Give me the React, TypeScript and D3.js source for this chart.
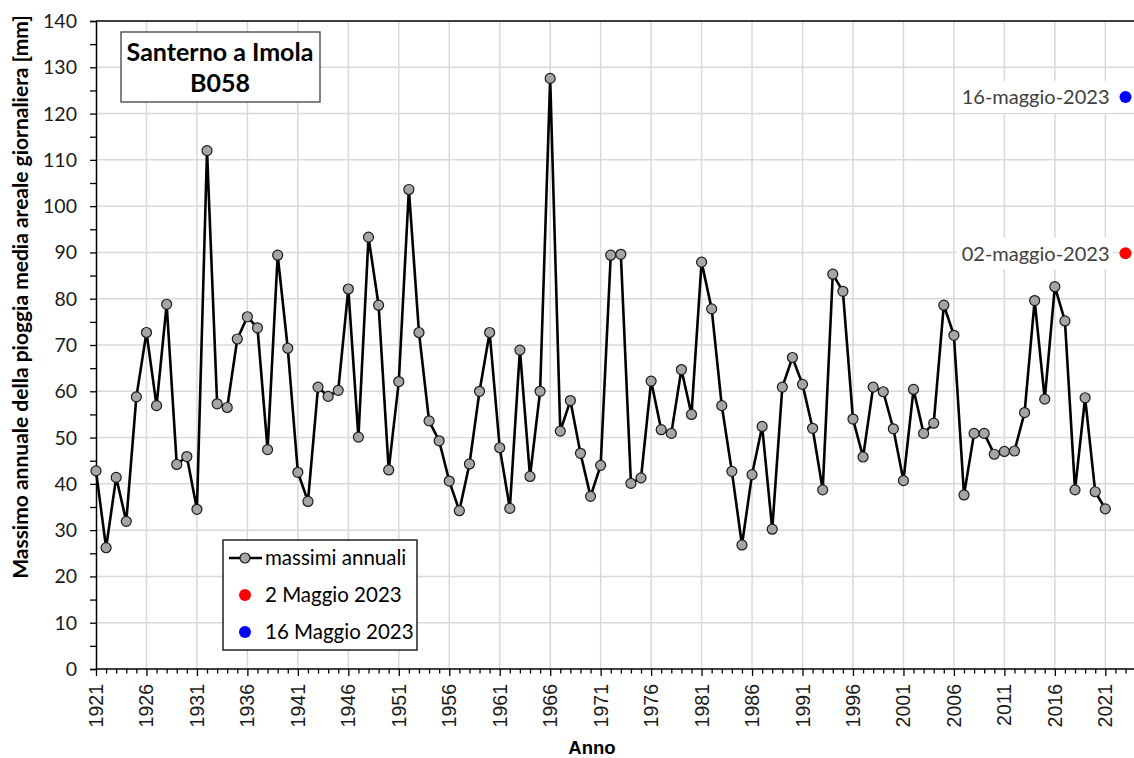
import React, { useEffect, useRef } from "react";
import * as d3 from "d3";

// annual maxima of areal daily rainfall, Santerno a Imola (B058)
const firstYear = 1921;
const annualMax = [
  42.8, 26.2, 41.4, 31.9, 58.8, 72.7, 56.9, 78.8, 44.2, 45.9, // 1921-1930
  34.5, 112.0, 57.3, 56.5, 71.3, 76.1, 73.7, 47.4, 89.4, 69.3, // 1931-1940
  42.5, 36.2, 60.9, 58.9, 60.2, 82.1, 50.1, 93.3, 78.6, 43.0, // 1941-1950
  62.1, 103.6, 72.7, 53.6, 49.3, 40.6, 34.2, 44.3, 60.0, 72.7, // 1951-1960
  47.8, 34.7, 68.9, 41.6, 60.0, 127.6, 51.4, 58.0, 46.6, 37.3, // 1961-1970
  44.0, 89.4, 89.6, 40.1, 41.3, 62.2, 51.7, 50.9, 64.7, 55.0, // 1971-1980
  87.9, 77.8, 56.9, 42.7, 26.8, 42.0, 52.4, 30.2, 60.9, 67.3, // 1981-1990
  61.5, 52.0, 38.7, 85.3, 81.6, 54.0, 45.8, 60.9, 59.9, 51.9, // 1991-2000
  40.7, 60.4, 50.9, 53.1, 78.6, 72.1, 37.6, 50.9, 50.9, 46.4, // 2001-2010
  47.0, 47.1, 55.4, 79.6, 58.3, 82.6, 75.2, 38.7, 58.6, 38.3, // 2011-2020
  34.6, // 2021
];

// May 2023 events
const eventYear = 2023;
const eventValues = [89.8, 123.6];
const eventLabels = ["02-maggio-2023", "16-maggio-2023"];
const eventLegend = ["2 Maggio 2023", "16 Maggio 2023"];
const eventColors = ["#ff0000", "#0000ff"];

const yTicks = [0, 10, 20, 30, 40, 50, 60, 70, 80, 90, 100, 110, 120, 130, 140];

const W = 1134;
const H = 758;
const calibri = "Lato, 'Open Sans', sans-serif";
const arial = "'Liberation Sans', Arial, sans-serif";

const App: React.FC = () => {
  const ref = useRef<SVGSVGElement | null>(null);

  useEffect(() => {
    if (!ref.current) return;
    const svg = d3.select(ref.current);
    svg.selectAll("*").remove();

    const left = 96, top = 21, bottom = 669;
    const x = d3.scaleLinear().domain([1921, 2024]).range([left, left + 103 * 10.093]);
    const y = d3.scaleLinear().domain([0, 140]).range([bottom, top]);

    const data = annualMax.map((v, i) => ({ year: firstYear + i, value: v }));

    svg.append("rect").attr("width", W).attr("height", H).attr("fill", "#fff");

    // grid
    const grid = svg.append("g").attr("stroke", "#d9d9d9").attr("stroke-width", 1.5);
    yTicks.filter((t) => t > 0 && t < 140).forEach((t) => {
      grid.append("line").attr("x1", left).attr("x2", W).attr("y1", y(t)).attr("y2", y(t));
    });
    for (let yr = 1926; yr <= 2021; yr += 5) {
      grid.append("line").attr("x1", x(yr)).attr("x2", x(yr)).attr("y1", top).attr("y2", bottom);
    }

    // frame top
    svg.append("line").attr("x1", left).attr("x2", W).attr("y1", top).attr("y2", top)
      .attr("stroke", "#000").attr("stroke-width", 1.5);

    // y axis
    const yAxis = svg.append("g").attr("transform", `translate(${left},0)`)
      .call(d3.axisLeft(y).tickValues(d3.range(0, 141, 5)).tickSize(6).tickFormat(() => ""));
    yAxis.select(".domain").attr("stroke", "#000").attr("stroke-width", 1.5);
    yAxis.selectAll(".tick line").attr("stroke", "#000").attr("stroke-width", 1.3);
    yTicks.forEach((t) => {
      svg.append("text").attr("x", 77).attr("y", y(t)).attr("dy", "0.36em")
        .attr("text-anchor", "end").attr("font-family", calibri).attr("font-size", 19.5)
        .attr("fill", "#1a1a1a").text(t);
    });

    // x axis
    const xAxis = svg.append("g").attr("transform", `translate(0,${bottom})`)
      .call(d3.axisBottom(x).tickValues(d3.range(1921, 2024)).tickSize(4.5).tickFormat(() => ""));
    xAxis.select(".domain").remove();
    xAxis.selectAll(".tick line").attr("stroke", "#000").attr("stroke-width", 1.3)
      .attr("y2", (d: any) => ((d - 1921) % 5 === 0 ? 7 : 4.5));
    svg.append("line").attr("x1", left).attr("x2", W).attr("y1", bottom).attr("y2", bottom)
      .attr("stroke", "#000").attr("stroke-width", 1.5);
    for (let yr = 1921; yr <= 2021; yr += 5) {
      svg.append("text")
        .attr("transform", `translate(${x(yr)},684) rotate(-90)`)
        .attr("dy", "0.36em").attr("text-anchor", "end")
        .attr("font-family", arial).attr("font-size", 19.5).attr("fill", "#1a1a1a")
        .text(yr);
    }

    // axis titles
    svg.append("text").attr("transform", "translate(28,297) rotate(-90)")
      .attr("text-anchor", "middle").attr("font-family", calibri).attr("font-weight", "bold")
      .attr("font-size", 21).attr("fill", "#000")
      .text("Massimo annuale della pioggia media areale giornaliera [mm]");
    svg.append("text").attr("x", 592).attr("y", 754).attr("text-anchor", "middle")
      .attr("font-family", arial).attr("font-weight", "bold").attr("font-size", 18.5)
      .text("Anno");

    // series
    const line = d3.line<{ year: number; value: number }>().x((d) => x(d.year)).y((d) => y(d.value));
    svg.append("path").datum(data).attr("d", line).attr("fill", "none")
      .attr("stroke", "#000").attr("stroke-width", 2.6).attr("stroke-linejoin", "round");
    svg.append("g").selectAll("circle").data(data).join("circle")
      .attr("cx", (d) => x(d.year)).attr("cy", (d) => y(d.value)).attr("r", 5)
      .attr("fill", "#a5a5a5").attr("stroke", "#1a1a1a").attr("stroke-width", 1.2);

    // event points with labels
    eventValues.forEach((v, i) => {
      const cx = x(eventYear), cy = y(v);
      const t = svg.append("text").attr("x", cx - 16).attr("y", cy).attr("dy", "0.36em")
        .attr("text-anchor", "end").attr("font-family", calibri).attr("font-size", 20)
        .attr("fill", "#404040").text(eventLabels[i]);
      const bb = (t.node() as SVGTextElement).getBBox();
      svg.insert("rect", () => t.node() as any)
        .attr("x", bb.x - 5).attr("y", cy - 16).attr("width", bb.width + 8).attr("height", 32)
        .attr("fill", "#fff");
      svg.append("circle").attr("cx", cx).attr("cy", cy).attr("r", 6).attr("fill", eventColors[i]);
    });

    // title box
    svg.append("rect").attr("x", 121).attr("y", 32).attr("width", 199).attr("height", 70)
      .attr("fill", "#fff").attr("stroke", "#404040").attr("stroke-width", 1.3);
    ["Santerno a Imola", "B058"].forEach((s, i) => {
      svg.append("text").attr("x", 220).attr("y", 61 + i * 31).attr("text-anchor", "middle")
        .attr("font-family", calibri).attr("font-weight", "bold").attr("font-size", 25)
        .attr("fill", "#000").text(s);
    });

    // legend
    const lg = svg.append("g");
    lg.append("rect").attr("x", 223).attr("y", 540).attr("width", 194).attr("height", 110)
      .attr("fill", "#fff").attr("stroke", "#000").attr("stroke-width", 1.3);
    lg.append("line").attr("x1", 229).attr("x2", 262).attr("y1", 558).attr("y2", 558)
      .attr("stroke", "#000").attr("stroke-width", 2.6);
    lg.append("circle").attr("cx", 245).attr("cy", 558).attr("r", 5)
      .attr("fill", "#a5a5a5").attr("stroke", "#1a1a1a").attr("stroke-width", 1.2);
    const legendLabels = ["massimi annuali", ...eventLegend];
    legendLabels.forEach((s, i) => {
      const cy = 558 + i * 37;
      if (i > 0) lg.append("circle").attr("cx", 245).attr("cy", cy).attr("r", 6).attr("fill", eventColors[i - 1]);
      lg.append("text").attr("x", 265).attr("y", cy).attr("dy", "0.36em")
        .attr("font-family", calibri).attr("font-size", 20.5).attr("fill", "#000").text(s);
    });
  }, []);

  return (
    <svg
      ref={ref}
      width={W}
      height={H}
      style={{ position: "absolute", left: 0, top: 0, display: "block" }}
    />
  );
};

export default App;
